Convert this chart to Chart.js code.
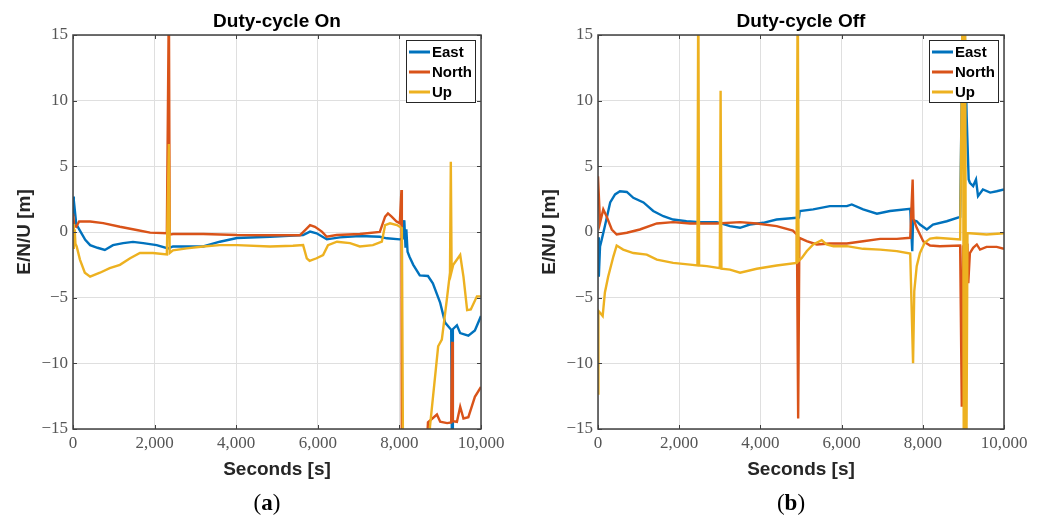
<!DOCTYPE html>
<html>
<head>
<meta charset="utf-8">
<script src="https://cdn.jsdelivr.net/npm/chart.js@4.4.0/dist/chart.umd.min.js"></script>
<style>
  body { margin: 0; background: #fff; }
  #wrap { position: relative; width: 1041px; height: 518px; }
  canvas { position: absolute; top: 0; }
  .sub { position: absolute; top: 489px; width: 60px; text-align: center; font: 23px "Liberation Serif", serif; color: #000; line-height: 28px; }
</style>
</head>
<body>
<div id="wrap">
  <canvas id="chart-on" width="520" height="518" style="left:0"></canvas>
  <canvas id="chart-off" width="521" height="518" style="left:520px"></canvas>
  <div class="sub" style="left:237px">(<b>a</b>)</div>
  <div class="sub" style="left:761px">(<b>b</b>)</div>
</div>
<script>
// axis ticks
const xTicks = [0, 2000, 4000, 6000, 8000, 10000];
const yTicks = [-15, -10, -5, 0, 5, 10, 15];

// Duty-cycle On (values off the axis range are drawn clipped)
const onEastT = [0, 20, 40, 80, 170, 300, 420, 600, 780, 980, 1230, 1470, 1720, 2050, 2330, 2450, 2790, 3190, 3600, 4020, 4830, 5640, 5810, 5970, 6220, 6540, 7030, 7520, 7690, 8010, 8080, 8120, 8150, 8170, 8200, 8250, 8340, 8500, 8700, 8820, 9000, 9120, 9270, 9290, 9310, 9410, 9490, 9690, 9850, 10000];
const onEastY = [2.7, 1.2, 1.8, 0.6, 0.1, -0.6, -1.0, -1.2, -1.37, -1.0, -0.85, -0.75, -0.85, -1.0, -1.25, -1.1, -1.1, -1.1, -0.74, -0.46, -0.36, -0.23, 0.03, -0.1, -0.56, -0.41, -0.3, -0.36, -0.48, -0.56, -0.5, 0.9, -1.2, 0.2, -1.5, -1.9, -2.5, -3.3, -3.35, -3.9, -5.4, -6.9, -7.45, -18, -7.4, -7.1, -7.7, -7.9, -7.5, -6.4];

const onNorthT = [0, 30, 80, 150, 420, 740, 1150, 1560, 1890, 2300, 2350, 2370, 2450, 3190, 4020, 4830, 5560, 5690, 5810, 5930, 6100, 6220, 6460, 7030, 7520, 7650, 7720, 7810, 7930, 8010, 8050, 8060, 8650, 8700, 8920, 9000, 9170, 9270, 9290, 9310, 9410, 9490, 9570, 9690, 9850, 10000];
const onNorthY = [1.4, 0.5, 0.4, 0.8, 0.8, 0.68, 0.4, 0.15, -0.05, -0.1, 18, -0.2, -0.15, -0.15, -0.23, -0.25, -0.25, 0.15, 0.53, 0.4, 0.03, -0.36, -0.23, -0.15, 0.0, 1.17, 1.42, 1.17, 0.8, 0.66, 3.2, -18, -18, -14.5, -13.9, -14.45, -14.55, -14.5, -8.35, -14.4, -14.45, -13.3, -14.2, -14.1, -12.55, -11.8];

const onUpT = [0, 20, 40, 60, 90, 170, 290, 420, 660, 900, 1150, 1400, 1640, 1960, 2300, 2350, 2370, 2450, 2790, 3190, 3600, 4020, 4830, 5390, 5640, 5730, 5800, 5970, 6130, 6250, 6470, 6790, 7030, 7350, 7570, 7650, 7770, 7940, 8060, 8090, 8700, 8750, 8950, 9040, 9160, 9240, 9260, 9280, 9320, 9490, 9570, 9660, 9750, 9900, 10000];
const onUpY = [0.6, -1.3, 0.2, -0.9, -1.1, -2.1, -3.1, -3.4, -3.1, -2.75, -2.5, -2.0, -1.6, -1.6, -1.7, 6.7, -1.6, -1.4, -1.25, -1.1, -1.0, -1.0, -1.1, -1.05, -1.0, -2.0, -2.2, -2.0, -1.75, -1.0, -0.74, -0.85, -1.1, -1.0, -0.74, 0.53, 0.66, 0.53, 0.3, -18, -18, -14.8, -8.7, -8.2, -5.2, -3.1, 5.35, -3.0, -2.5, -1.75, -3.4, -5.95, -5.9, -4.9, -4.9];

// Duty-cycle Off
const offEastT = [0, 20, 50, 90, 170, 300, 420, 540, 710, 870, 1120, 1360, 1610, 1850, 2180, 2510, 2930, 3250, 3500, 3740, 4070, 4400, 4900, 4950, 4970, 5300, 5710, 6130, 6250, 6530, 6870, 7190, 7690, 7740, 7760, 7850, 7930, 8100, 8250, 8590, 8920, 9000, 9080, 9130, 9160, 9240, 9310, 9360, 9480, 9660, 9820, 10000];
const offEastY = [-0.4, -3.4, -1.1, -0.6, 0.45, 2.25, 2.86, 3.1, 3.05, 2.6, 2.25, 1.6, 1.2, 0.95, 0.82, 0.75, 0.75, 0.45, 0.32, 0.57, 0.7, 0.95, 1.08, 1.1, 1.6, 1.72, 1.97, 1.97, 2.1, 1.72, 1.39, 1.6, 1.77, -1.46, 0.9, 0.82, 0.57, 0.19, 0.57, 0.82, 1.16, 20, 8.8, 4.0, 3.75, 3.5, 4.0, 2.73, 3.24, 3.0, 3.1, 3.24];

const offNorthT = [0, 50, 130, 210, 340, 460, 710, 1030, 1450, 1850, 2270, 2920, 3500, 3910, 4400, 4800, 4900, 4930, 4960, 5140, 5390, 5710, 6130, 6530, 6950, 7360, 7690, 7750, 7770, 7850, 8010, 8180, 8420, 8920, 8960, 8990, 9100, 9120, 9160, 9240, 9330, 9410, 9570, 9820, 10000];
const offNorthY = [4.25, 0.7, 1.72, 1.2, 0.19, -0.19, -0.06, 0.19, 0.65, 0.75, 0.65, 0.65, 0.75, 0.65, 0.45, 0.1, -0.2, -14.2, -0.45, -0.7, -0.95, -0.88, -0.88, -0.7, -0.52, -0.52, -0.44, 4.0, 1.0, 0.32, -0.7, -1.03, -1.08, -1.03, -13.3, -1.1, -1.0, -3.9, -1.6, -1.2, -0.95, -1.34, -1.13, -1.13, -1.28];

const offUpT = [0, 10, 50, 115, 170, 250, 380, 460, 620, 870, 1200, 1450, 1850, 2270, 2450, 2470, 2490, 2680, 3000, 3020, 3040, 3250, 3500, 3910, 4400, 4890, 4920, 4940, 5020, 5140, 5300, 5510, 5630, 5800, 6130, 6530, 6950, 7360, 7690, 7760, 7790, 7850, 7930, 8050, 8180, 8340, 8920, 8990, 9010, 9040, 9070, 9100, 9160, 9570, 10000];
const offUpY = [-12.3, -6.0, -6.15, -6.4, -4.6, -3.4, -1.85, -1.03, -1.34, -1.6, -1.72, -2.1, -2.35, -2.48, -2.55, 20, -2.55, -2.6, -2.75, 10.75, -2.8, -2.86, -3.1, -2.8, -2.55, -2.35, 20, -2.2, -1.97, -1.46, -0.95, -0.62, -0.95, -1.08, -1.08, -1.28, -1.34, -1.46, -1.64, -10.0, -4.5, -2.6, -1.6, -0.8, -0.5, -0.44, -0.57, 20, -20, 20, -20, -0.1, -0.1, -0.19, -0.1];

const SANS = '"Liberation Sans", Arial, sans-serif';
const SERIF = '"Liberation Serif", "Times New Roman", serif';

// box round the plot with small inward ticks, like MATLAB
const frame = {
  id: 'frame',
  afterDatasetsDraw(chart) {
    const {ctx, chartArea: a, scales: {x, y}} = chart;
    ctx.save();
    ctx.strokeStyle = '#404040';
    ctx.lineWidth = 1;
    ctx.beginPath();
    xTicks.forEach(v => {
      const px = Math.round(x.getPixelForValue(v)) + 0.5;
      ctx.moveTo(px, a.bottom); ctx.lineTo(px, a.bottom - 4);
      ctx.moveTo(px, a.top); ctx.lineTo(px, a.top + 4);
    });
    yTicks.forEach(v => {
      const py = Math.round(y.getPixelForValue(v)) + 0.5;
      ctx.moveTo(a.left, py); ctx.lineTo(a.left + 4, py);
      ctx.moveTo(a.right, py); ctx.lineTo(a.right - 4, py);
    });
    ctx.stroke();
    ctx.lineWidth = 1.5;
    ctx.strokeRect(a.left, a.top, a.right - a.left, a.bottom - a.top);
    ctx.restore();
  }
};

// legend drawn inside the plot, top right
const boxLegend = {
  id: 'boxLegend',
  afterDraw(chart) {
    const {ctx, chartArea: a} = chart;
    const w = 69, h = 62;
    const left = a.right - 6 - w, top = a.top + 5;
    ctx.save();
    ctx.fillStyle = '#fff';
    ctx.fillRect(left, top, w, h);
    ctx.strokeStyle = '#262626';
    ctx.lineWidth = 1;
    ctx.strokeRect(left + 0.5, top + 0.5, w, h);
    ctx.font = 'bold 15px ' + SANS;
    ctx.textBaseline = 'middle';
    chart.data.datasets.forEach((ds, i) => {
      const cy = top + 12 + i * 20;
      ctx.strokeStyle = ds.borderColor;
      ctx.lineWidth = 3;
      ctx.beginPath();
      ctx.moveTo(left + 3, cy);
      ctx.lineTo(left + 24, cy);
      ctx.stroke();
      ctx.fillStyle = '#000';
      ctx.fillText(ds.label, left + 26, cy + 1);
    });
    ctx.restore();
  }
};

function points(ts, ys) {
  return ts.map((t, i) => ({x: t, y: ys[i]}));
}

function makeChart(id, title, series, yWidth, yTitlePad, rightPad) {
  return new Chart(document.getElementById(id), {
    type: 'line',
    data: {
      datasets: series.map((s, i) => ({
        label: s.label,
        data: points(s.t, s.y),
        borderColor: s.color,
        borderWidth: 2.4,
        pointRadius: 0,
        tension: 0,
        order: series.length - 1 - i
      }))
    },
    options: {
      responsive: false,
      animation: false,
      devicePixelRatio: 1,
      layout: { padding: { left: 0, right: rightPad, top: 0, bottom: 37 } },
      plugins: {
        legend: { display: false },
        tooltip: { enabled: false },
        title: {
          display: true, text: title, fullSize: false, color: '#000',
          font: { family: SANS, size: 19, weight: 'bold' },
          padding: { top: 10, bottom: 2.2 }
        }
      },
      scales: {
        x: {
          type: 'linear', min: 0, max: 10000,
          afterFit: s => { s.height = 52; },
          afterBuildTicks: s => { s.ticks = xTicks.map(v => ({value: v})); },
          ticks: {
            padding: 4, color: '#555', maxRotation: 0,
            font: { family: SERIF, size: 17 },
            callback: v => v.toLocaleString('en-US')
          },
          grid: { color: '#dfdfdf', drawTicks: false },
          border: { display: false },
          title: {
            display: true, text: 'Seconds [s]', color: '#262626',
            font: { family: SANS, size: 19, weight: 'bold' }, padding: 0
          }
        },
        y: {
          min: -15, max: 15,
          afterFit: s => { s.width = yWidth; },
          afterBuildTicks: s => { s.ticks = yTicks.map(v => ({value: v})); },
          ticks: {
            padding: 5, color: '#555',
            font: { family: SERIF, size: 17 },
            callback: v => v < 0 ? '\u2212' + (-v) : String(v)
          },
          grid: { color: '#dfdfdf', drawTicks: false },
          border: { display: false },
          title: {
            display: true, text: 'E/N/U [m]', color: '#262626',
            font: { family: SANS, size: 19, weight: 'bold' },
            padding: { top: yTitlePad, bottom: 0 }
          }
        }
      }
    },
    plugins: [frame, boxLegend]
  });
}

makeChart('chart-on', 'Duty-cycle On', [
  { label: 'East', color: '#0072BD', t: onEastT, y: onEastY },
  { label: 'North', color: '#D95319', t: onNorthT, y: onNorthY },
  { label: 'Up', color: '#EDB120', t: onUpT, y: onUpY }
], 73, 13.5, 39);

makeChart('chart-off', 'Duty-cycle Off', [
  { label: 'East', color: '#0072BD', t: offEastT, y: offEastY },
  { label: 'North', color: '#D95319', t: offNorthT, y: offNorthY },
  { label: 'Up', color: '#EDB120', t: offUpT, y: offUpY }
], 78, 18.5, 37);
</script>
</body>
</html>
